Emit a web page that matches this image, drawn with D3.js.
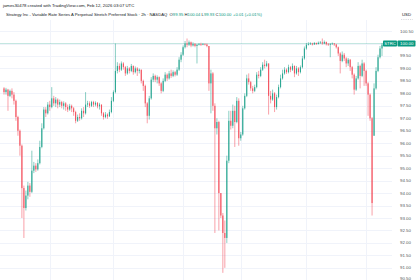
<!DOCTYPE html>
<html>
<head>
<meta charset="utf-8">
<script src="https://cdn.jsdelivr.net/npm/d3@7"></script>
<style>
  html, body { margin: 0; padding: 0; background: #fff; }
  svg { display: block; font-family: "Liberation Sans", Arial, sans-serif; }
</style>
</head>
<body>
<svg id="chart" width="420" height="280"></svg>
<script>
// STRC 2h candles (one entry per bar)
const opens = [
  98.20, 98.05, 98.15, 97.90, 98.10, 97.95, 97.70, 97.05, 96.50, 95.90,
  94.20, 93.40, 93.90, 94.30, 94.05, 94.90, 95.10, 94.95, 95.20, 95.85,
  96.60, 97.35, 97.20, 97.55, 97.45, 97.80, 97.60, 97.75, 97.55, 97.65,
  97.50, 97.60, 97.45, 97.35, 97.50, 97.40, 97.25, 96.90, 97.05, 97.00,
  97.30, 97.20, 97.55, 97.60, 97.50, 97.65, 97.55, 97.62, 97.48, 97.55,
  97.20, 97.05, 97.15, 97.08, 97.25, 97.70, 98.05, 98.90, 99.10, 98.95,
  99.20, 99.05, 98.80, 99.00, 98.90, 99.10, 98.85, 99.00, 98.90, 98.95,
  98.50, 98.30, 97.60, 97.10, 97.80, 98.55, 98.70, 98.55, 98.65, 98.40,
  98.10, 98.50, 98.75, 98.60, 98.80, 98.70, 98.85, 98.75, 98.95, 99.35,
  99.55, 99.85, 100.00, 99.95, 100.05, 99.92, 99.98, 99.90, 99.95, 99.98,
  99.95, 99.98, 99.96, 99.90, 98.40, 98.80, 97.50, 96.60, 96.85, 94.00,
  93.10, 92.40, 92.20, 95.30, 96.90, 96.70, 97.30, 96.85, 97.70, 96.20,
  96.35, 97.40, 97.90, 98.60, 98.45, 98.20, 98.10, 98.25, 98.75, 98.70,
  98.95, 99.15, 99.10, 99.20, 97.90, 97.75, 98.00, 97.45, 97.85, 98.25,
  98.60, 98.80, 98.95, 98.85, 99.05, 98.95, 99.10, 98.80, 99.00, 98.85,
  99.05, 99.40, 99.80, 99.95, 99.98, 100.00, 99.96, 100.02, 99.98, 100.03,
  100.05, 100.00, 100.06, 99.97, 99.95, 99.98, 100.00, 99.96, 99.85, 99.60,
  99.30, 99.55, 99.40, 99.20, 99.35, 99.05, 98.75, 98.15, 98.60, 99.10,
  98.70, 99.20, 98.90, 98.40, 97.95, 97.00, 96.30, 98.20, 98.90, 99.45,
  99.80, 99.95
];
const highs = [
  98.25, 98.22, 98.18, 98.15, 98.20, 98.05, 97.75, 97.10, 96.55, 95.95,
  94.30, 94.10, 94.45, 94.40, 95.70, 95.25, 95.20, 95.35, 96.10, 96.80,
  97.45, 97.45, 97.65, 97.70, 98.25, 97.90, 97.85, 97.80, 97.75, 97.70,
  97.68, 97.65, 97.55, 97.58, 97.55, 97.45, 97.30, 97.15, 97.20, 97.40,
  97.45, 98.05, 97.70, 97.68, 97.70, 97.70, 97.68, 97.65, 97.62, 97.55,
  97.25, 97.25, 97.20, 97.35, 97.85, 98.12, 100.00, 99.25, 99.20, 99.28,
  99.25, 99.10, 99.10, 99.05, 99.18, 99.12, 99.08, 99.05, 99.00, 98.95,
  98.55, 98.35, 97.65, 97.90, 98.65, 98.80, 98.75, 98.72, 98.68, 98.45,
  98.60, 98.85, 98.80, 98.90, 98.95, 98.92, 98.90, 99.05, 99.45, 99.65,
  99.92, 100.10, 100.20, 100.12, 100.08, 100.05, 100.02, 99.98, 100.02, 100.03,
  100.02, 100.01, 100.00, 99.90, 98.95, 98.85, 97.60, 97.00, 96.90, 94.00,
  93.20, 92.90, 95.50, 97.30, 97.30, 97.55, 97.50, 97.85, 97.80, 96.45,
  97.50, 98.00, 98.75, 98.80, 98.50, 98.30, 98.35, 98.85, 98.90, 99.05,
  99.25, 99.35, 99.30, 99.20, 98.10, 98.15, 98.05, 97.95, 98.35, 98.75,
  98.95, 99.05, 99.00, 99.15, 99.10, 99.20, 99.12, 99.10, 99.05, 99.12,
  99.50, 99.88, 100.02, 100.05, 100.05, 100.03, 100.06, 100.04, 100.08, 100.10,
  100.20, 100.12, 100.08, 100.02, 100.02, 100.04, 100.02, 99.98, 99.88, 99.65,
  99.68, 99.62, 99.45, 99.42, 99.38, 99.10, 98.80, 98.70, 99.25, 99.15,
  99.35, 99.25, 98.95, 98.45, 98.00, 97.05, 98.40, 99.05, 99.55, 99.90,
  100.02, 100.04
];
const lows = [
  97.95, 97.95, 97.30, 97.85, 97.80, 97.55, 96.90, 96.30, 95.50, 93.00,
  92.20, 93.30, 93.75, 93.85, 94.00, 94.80, 94.85, 94.90, 95.15, 95.80,
  96.55, 97.05, 97.15, 97.30, 97.40, 97.50, 97.45, 97.40, 97.45, 97.40,
  97.35, 97.30, 97.25, 97.30, 97.25, 97.10, 96.80, 96.85, 96.90, 96.95,
  97.05, 97.15, 97.45, 97.42, 97.45, 97.45, 97.48, 97.40, 97.35, 97.10,
  96.95, 97.00, 96.98, 97.05, 97.20, 97.65, 98.00, 98.80, 98.85, 98.90,
  98.95, 98.70, 98.75, 98.80, 98.85, 98.75, 98.80, 98.70, 98.80, 98.40,
  98.10, 97.45, 96.80, 96.95, 97.75, 98.45, 98.45, 98.40, 98.30, 98.00,
  98.05, 98.45, 98.50, 98.55, 98.62, 98.65, 98.68, 98.70, 98.90, 99.25,
  99.50, 99.80, 99.85, 99.90, 99.85, 99.88, 99.85, 99.20, 99.92, 99.90,
  99.93, 99.92, 99.85, 98.10, 97.20, 97.30, 92.40, 96.35, 92.50, 93.00,
  90.80, 91.00, 92.00, 95.20, 96.55, 96.60, 95.85, 96.80, 95.90, 96.10,
  96.30, 97.35, 97.85, 98.35, 98.10, 98.00, 98.05, 98.20, 98.60, 98.65,
  98.90, 99.00, 99.05, 97.15, 97.60, 97.70, 97.25, 97.35, 97.80, 98.20,
  98.55, 98.75, 98.78, 98.80, 98.85, 98.90, 98.65, 98.75, 98.70, 98.80,
  99.00, 99.35, 99.75, 99.92, 99.94, 99.92, 99.95, 99.94, 99.96, 99.98,
  99.95, 99.97, 99.92, 99.90, 99.45, 99.94, 99.90, 99.80, 99.50, 98.80,
  99.25, 99.30, 99.05, 99.10, 98.90, 98.60, 97.95, 98.10, 98.55, 98.20,
  98.65, 98.30, 98.30, 97.10, 96.90, 93.10, 96.30, 98.15, 98.85, 99.40,
  99.50, 99.93
];
const closes = [
  98.05, 98.15, 97.90, 98.10, 97.95, 97.70, 97.05, 96.50, 95.90, 94.20,
  93.40, 93.90, 94.30, 94.05, 94.90, 95.10, 94.95, 95.20, 95.85, 96.60,
  97.35, 97.20, 97.55, 97.45, 97.80, 97.60, 97.75, 97.55, 97.65, 97.50,
  97.60, 97.45, 97.35, 97.50, 97.40, 97.25, 96.90, 97.05, 97.00, 97.30,
  97.20, 97.55, 97.60, 97.50, 97.65, 97.55, 97.62, 97.48, 97.55, 97.20,
  97.05, 97.15, 97.08, 97.25, 97.70, 98.05, 98.90, 99.10, 98.95, 99.20,
  99.05, 98.80, 99.00, 98.90, 99.10, 98.85, 99.00, 98.90, 98.95, 98.50,
  98.30, 97.60, 97.10, 97.80, 98.55, 98.70, 98.55, 98.65, 98.40, 98.10,
  98.50, 98.75, 98.60, 98.80, 98.70, 98.85, 98.75, 98.95, 99.35, 99.55,
  99.85, 100.00, 99.95, 100.05, 99.92, 99.98, 99.90, 99.95, 99.98, 99.95,
  99.98, 99.96, 99.90, 98.40, 98.80, 97.50, 96.60, 96.85, 94.00, 93.10,
  92.40, 92.20, 95.30, 96.90, 96.70, 97.30, 96.85, 97.70, 96.20, 96.35,
  97.40, 97.90, 98.60, 98.45, 98.20, 98.10, 98.25, 98.75, 98.70, 98.95,
  99.15, 99.10, 99.20, 97.90, 97.75, 98.00, 97.45, 97.85, 98.25, 98.60,
  98.80, 98.95, 98.85, 99.05, 98.95, 99.10, 98.80, 99.00, 98.85, 99.05,
  99.40, 99.80, 99.95, 99.98, 100.00, 99.96, 100.02, 99.98, 100.03, 100.05,
  100.00, 100.06, 99.97, 99.95, 99.98, 100.00, 99.96, 99.85, 99.60, 99.30,
  99.55, 99.40, 99.20, 99.35, 99.05, 98.75, 98.15, 98.60, 99.10, 98.70,
  99.20, 98.90, 98.40, 97.95, 97.00, 93.60, 98.20, 98.90, 99.45, 99.80,
  99.95, 100.00
];

// bars where a new month starts (vertical grid)
const monthStartBars = [23, 55, 90, 119, 152, 182];
// price axis labels
const priceTicks = [90.5, 91, 91.5, 92, 92.5, 93, 93.5, 94, 94.5, 95, 95.5,
  96, 96.5, 97, 97.5, 98, 98.5, 99, 99.5, 100, 100.5];
const lastPrice = 100.00;

const headerLine1 = "james30478 created with TradingView.com, Feb 12, 2026 03:07 UTC";
const headerLine2 = "Strategy Inc - Variable Rate Series A Perpetual Stretch Preferred Stock \u00b7 2h \u00b7 NASDAQ";
const ohlcLabels = [["O", "99.95"], ["H", "100.04"], ["L", "99.93"], ["C", "100.00"]];
const changeText = "+0.01 (+0.01%)";

const upColor = "#089981";
const downColor = "#f23645";
const gridColor = "#f0f3fa";
const textColor = "#131722";

const svg = d3.select("#chart");
const width = +svg.attr("width");
const height = +svg.attr("height");
const plotRight = 392;

const x = d3.scaleLinear().domain([0, closes.length - 1]).range([4, 384]);
const y = d3.scaleLinear().domain([90, 101]).range([43.5 + 10 * 24.93, 43.5 - 24.93]);

// grid
const grid = svg.append("g");
grid.selectAll(".hgrid")
  .data(priceTicks)
  .enter().append("line")
  .attr("x1", 0).attr("x2", plotRight)
  .attr("y1", d => Math.round(y(d)) + 0.5).attr("y2", d => Math.round(y(d)) + 0.5)
  .attr("stroke", gridColor).attr("stroke-width", 1);
grid.selectAll(".vgrid")
  .data(monthStartBars)
  .enter().append("line")
  .attr("x1", d => Math.round(x(d)) + 0.5).attr("x2", d => Math.round(x(d)) + 0.5)
  .attr("y1", 20).attr("y2", height)
  .attr("stroke", gridColor).attr("stroke-width", 1);

// last price line
svg.append("line")
  .attr("x1", 0).attr("x2", plotRight)
  .attr("y1", y(lastPrice)).attr("y2", y(lastPrice))
  .attr("stroke", upColor).attr("stroke-opacity", 0.3).attr("stroke-width", 0.8);

// candles
const bars = closes.map((c, i) => ({ i, o: opens[i], h: highs[i], l: lows[i], c }));
const candles = svg.append("g")
  .attr("opacity", 0.85)
  .selectAll("g")
  .data(bars)
  .enter().append("g")
  .attr("fill", d => d.c >= d.o ? upColor : downColor)
  .attr("stroke", d => d.c >= d.o ? upColor : downColor);

candles.append("line")
  .attr("x1", d => x(d.i)).attr("x2", d => x(d.i))
  .attr("y1", d => y(Math.max(d.h, d.o, d.c))).attr("y2", d => y(Math.min(d.l, d.o, d.c)))
  .attr("stroke-width", 0.55);

candles.append("rect")
  .attr("stroke", "none")
  .attr("x", d => x(d.i) - 0.55)
  .attr("width", 1.1)
  .attr("y", d => y(Math.max(d.o, d.c)))
  .attr("height", d => Math.max(0.6, Math.abs(y(d.o) - y(d.c))));

// price axis labels
svg.append("g").selectAll("text")
  .data(priceTicks)
  .enter().append("text")
  .attr("x", 400)
  .attr("y", d => Math.min(y(d) + 1.5, 279.6))
  .attr("font-size", 4.4)
  .attr("fill", textColor)
  .attr("fill-opacity", 0.8)
  .text(d => d.toFixed(2));

// last price tag
const tag = svg.append("g");
tag.append("rect")
  .attr("x", 383).attr("y", y(lastPrice) - 3)
  .attr("width", 14).attr("height", 6)
  .attr("rx", 0.8).attr("fill", upColor);
tag.append("rect")
  .attr("x", 397.5).attr("y", y(lastPrice) - 3)
  .attr("width", 18).attr("height", 6)
  .attr("rx", 0.8).attr("fill", upColor);
tag.append("text")
  .attr("x", 390).attr("y", y(lastPrice) + 1.5)
  .attr("text-anchor", "middle").attr("font-size", 4.2).attr("fill", "#fff")
  .text("STRC");
tag.append("text")
  .attr("x", 400).attr("y", y(lastPrice) + 1.5)
  .attr("font-size", 4.4).attr("fill", "#fff")
  .text(lastPrice.toFixed(2));

// header
svg.append("text")
  .attr("x", 3).attr("y", 6.5)
  .attr("font-size", 4.3).attr("fill", textColor)
  .text(headerLine1);

const h2 = svg.append("text")
  .attr("x", 6).attr("y", 15.5)
  .attr("font-size", 4.2).attr("fill", textColor)
  .attr("xml:space", "preserve");
h2.append("tspan").text(headerLine2 + " ");
ohlcLabels.forEach(([k, v]) => {
  h2.append("tspan").attr("dx", 1.2).attr("fill", textColor).text(k);
  h2.append("tspan").attr("fill", upColor).text(v);
});
h2.append("tspan").attr("dx", 1.5).attr("fill", upColor).text(changeText);

svg.append("text")
  .attr("x", 402).attr("y", 15.5)
  .attr("font-size", 4.3).attr("fill", textColor)
  .text("USD");
svg.append("line")
  .attr("x1", 401).attr("x2", 413).attr("y1", 19.5).attr("y2", 19.5)
  .attr("stroke", "#b2b5be").attr("stroke-width", 0.6).attr("stroke-dasharray", "0.8,1");
</script>
</body>
</html>
